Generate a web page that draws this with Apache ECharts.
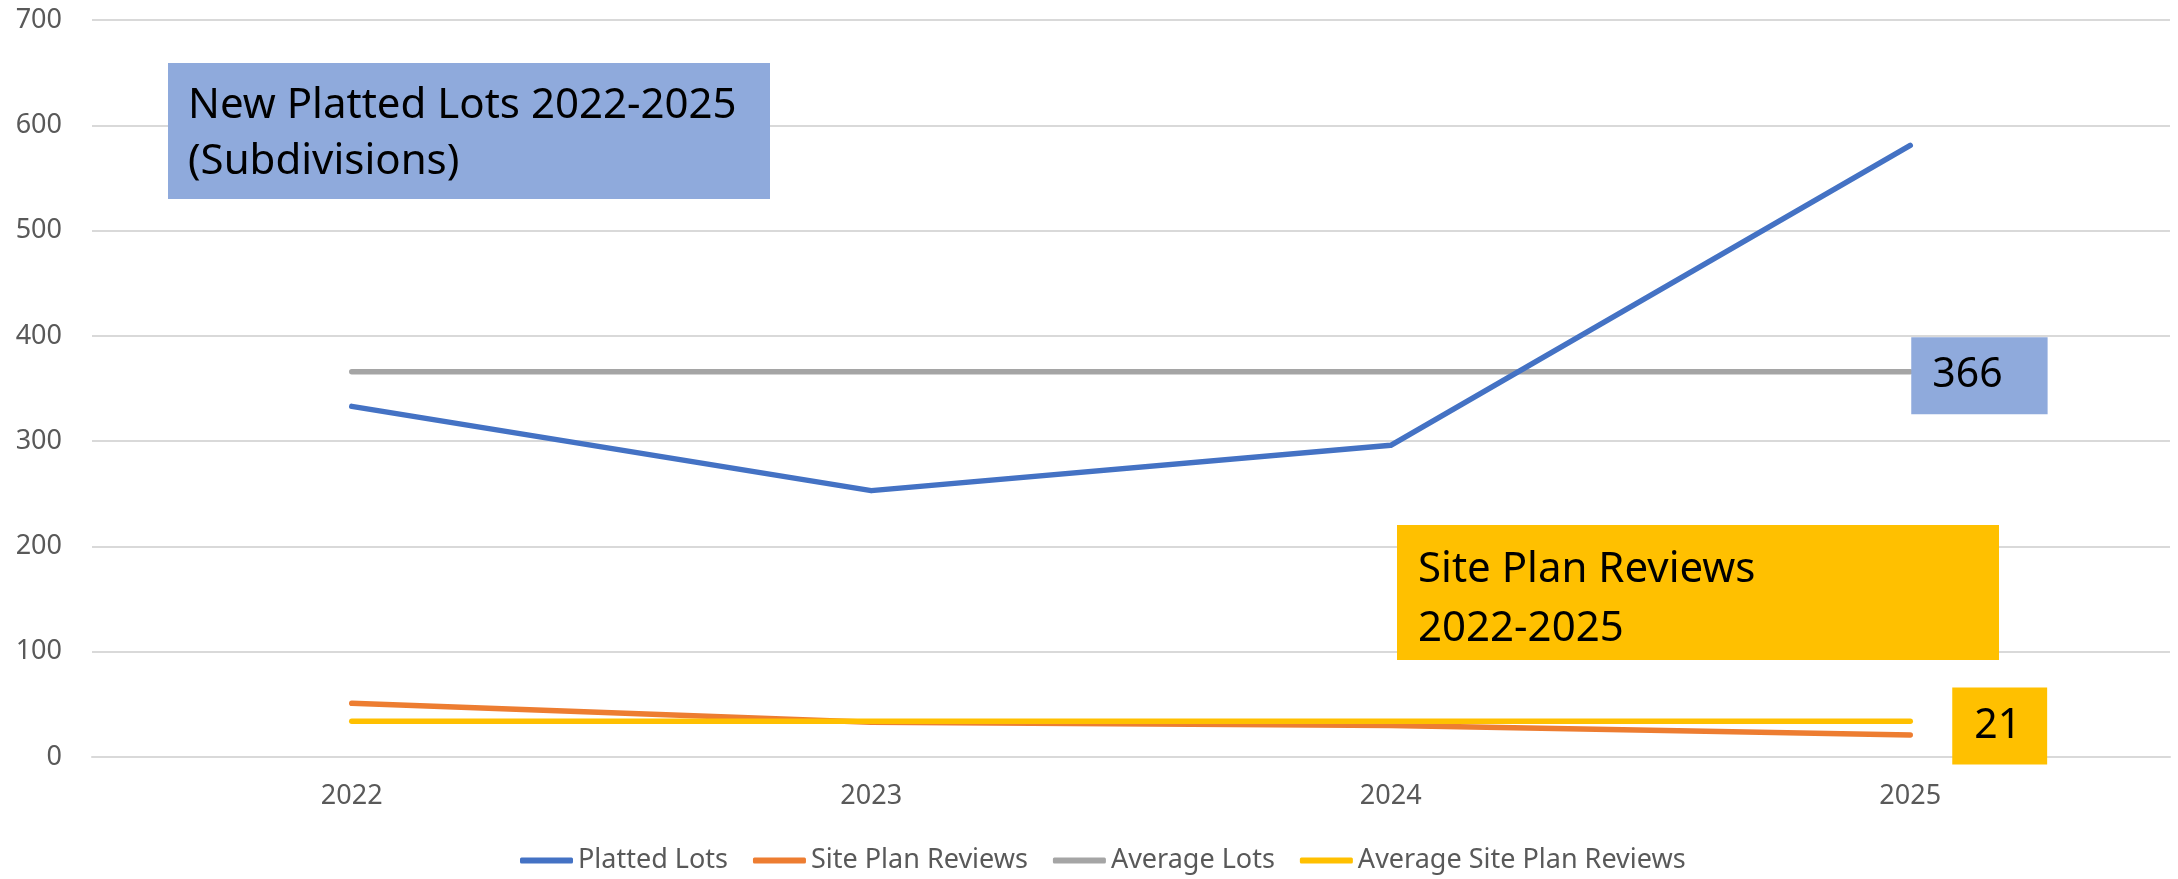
<!DOCTYPE html>
<html>
<head>
<meta charset="utf-8">
<title>Platted Lots and Site Plan Reviews 2022-2025</title>
<script src="https://cdn.jsdelivr.net/npm/echarts@6/dist/echarts.min.js"></script>
<style>
  html, body { margin: 0; padding: 0; background: #ffffff; }
  #chart { width: 2178px; height: 879px; }
</style>
</head>
<body>
<div id="chart"></div>
<script>
// Years on the category axis
const years = ['2022', '2023', '2024', '2025'];

// Series values
const plattedLots = [333, 253, 296, 581];
const sitePlanReviews = [51, 33, 30, 21];
const averageLots = [366, 366, 366, 366];
const averageSitePlanReviews = [34, 34, 34, 34];

// Value axis ticks
const yTicks = [0, 100, 200, 300, 400, 500, 600, 700];

// Series names (legend)
const seriesNames = ['Platted Lots', 'Site Plan Reviews', 'Average Lots', 'Average Site Plan Reviews'];

// Annotation boxes
const lotsTitle = ['New Platted Lots 2022-2025', '(Subdivisions)'];
const reviewsTitle = ['Site Plan Reviews', '2022-2025'];

const FONT = '"Noto Sans", "Open Sans", sans-serif';
const BLUE = '#4472C4', ORANGE = '#ED7D31', GREY = '#A5A5A5', GOLD = '#FFC000';
const BOX_BLUE = '#8FAADC';
const GRID_LINE = '#D9D9D9', AXIS_TEXT = '#595959';

function lineSeries(name, data, color, extra) {
  return Object.assign({
    name: name,
    type: 'line',
    data: data,
    symbol: 'none',
    showSymbol: false,
    smooth: false,
    color: color,
    itemStyle: { color: color },
    lineStyle: { color: color, width: 5.5, cap: 'round', join: 'round' },
    emphasis: { disabled: true },
    animation: false
  }, extra || {});
}

// Filled box with a block of text, drawn above the plot
function noteBox(left, top, width, height, fill, lines, textX, textY, lineHeight) {
  return {
    type: 'group',
    left: left,
    top: top,
    z: 100,
    zlevel: 1,
    children: [
      {
        type: 'rect', z: 100, zlevel: 1,
        shape: { x: 0, y: 0, width: width, height: height },
        style: { fill: fill }
      },
      {
        type: 'text', z: 101, zlevel: 1, x: textX, y: textY,
        style: {
          text: lines.join('\n'),
          fill: '#000000',
          font: '42px ' + FONT,
          lineHeight: lineHeight,
          verticalAlign: 'top'
        }
      }
    ]
  };
}

const chart = echarts.init(document.getElementById('chart'), null, { renderer: 'canvas' });

chart.setOption({
  backgroundColor: '#ffffff',
  animation: false,
  textStyle: { fontFamily: FONT },
  grid: { left: 92, right: 8, top: 20, bottom: 122, containLabel: false },
  xAxis: {
    type: 'category',
    data: years,
    boundaryGap: true,
    axisLine: { show: true, lineStyle: { color: GRID_LINE, width: 2 } },
    axisTick: { show: false },
    axisLabel: { color: AXIS_TEXT, fontSize: 27, fontFamily: FONT, margin: 26 },
    splitLine: { show: false }
  },
  yAxis: {
    type: 'value',
    min: yTicks[0],
    max: yTicks[yTicks.length - 1],
    interval: yTicks[1] - yTicks[0],
    axisLine: { show: false },
    axisTick: { show: false },
    axisLabel: { color: AXIS_TEXT, fontSize: 27, fontFamily: FONT, margin: 30 },
    splitLine: { show: true, lineStyle: { color: GRID_LINE, width: 2 } }
  },
  legend: {
    data: seriesNames,
    left: 515,
    top: 842,
    icon: 'roundRect',
    itemWidth: 53,
    itemHeight: 6,
    itemGap: 25,
    textStyle: { color: AXIS_TEXT, fontSize: 27, fontFamily: FONT },
    selectedMode: false
  },
  series: [
    lineSeries(seriesNames[0], plattedLots, BLUE, { z: 5 }),
    lineSeries(seriesNames[1], sitePlanReviews, ORANGE, {
      z: 3,
      endLabel: {
        show: true,
        formatter: p => String(p.value),
        distance: 42,
        offset: [0, -9],
        color: '#000000',
        fontSize: 41,
        fontFamily: FONT,
        lineHeight: 41,
        backgroundColor: GOLD,
        padding: [18, 26, 18, 22]
      }
    }),
    lineSeries(seriesNames[2], averageLots, GREY, {
      z: 2,
      endLabel: {
        show: true,
        formatter: p => String(p.value),
        distance: 1,
        offset: [0, 4],
        color: '#000000',
        fontSize: 41,
        fontFamily: FONT,
        lineHeight: 41,
        backgroundColor: BOX_BLUE,
        padding: [18, 45, 18, 21]
      }
    }),
    lineSeries(seriesNames[3], averageSitePlanReviews, GOLD, { z: 4 })
  ],
  graphic: [
    noteBox(168, 63, 602, 136, BOX_BLUE, lotsTitle, 20, 15, 56),
    noteBox(1397, 525, 602, 135, GOLD, reviewsTitle, 21, 16, 59)
  ]
});
</script>
</body>
</html>
